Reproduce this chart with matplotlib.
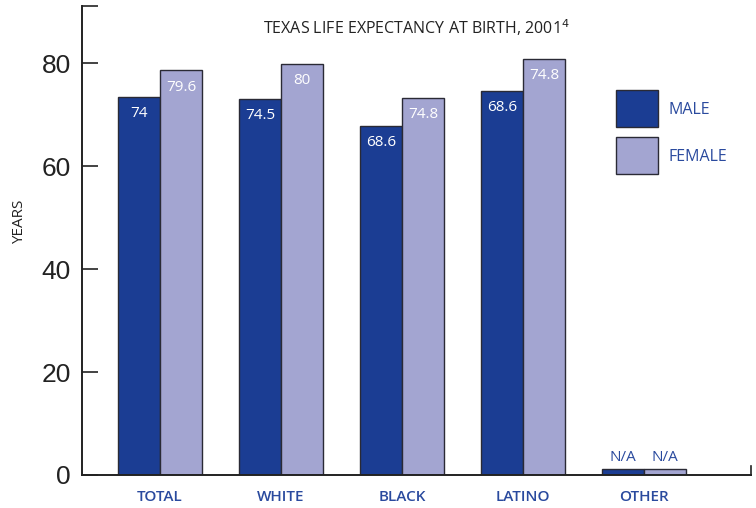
import matplotlib
matplotlib.use("Agg")
import matplotlib.pyplot as plt
from matplotlib.patches import Rectangle
import numpy as np

categories = ["TOTAL", "WHITE", "BLACK", "LATINO", "OTHER"]
male_values = [73.5, 73.0, 67.8, 74.6, 1.2]
female_values = [78.6, 79.9, 73.2, 80.9, 1.2]
male_labels = ["74", "74.5", "68.6", "68.6", "N/A"]
female_labels = ["79.6", "80", "74.8", "74.8", "N/A"]
yticks = [0, 20, 40, 60, 80]

MALE = "#1b3d93"
FEMALE = "#a3a5d1"
TXT_BLUE = "#2a4a9e"
EDGE = "#2a2a35"
W, H = 756, 508
FONT = "Open Sans"

fig = plt.figure(figsize=(7.56, 5.08), dpi=100)
ax = fig.add_axes([82 / W, 1 - 475 / H, (751 - 82) / W, (475 - 6) / H])

x = np.arange(len(categories))
bw = 0.347
bm = ax.bar(x - bw / 2, male_values, bw, color=MALE, edgecolor=EDGE, linewidth=1.0, zorder=2)
bf = ax.bar(x + bw / 2, female_values, bw, color=FEMALE, edgecolor=EDGE, linewidth=1.0, zorder=2)

ax.set_xlim(-0.645, 4.885)
ax.set_ylim(0, 91.1)

for i, (rm, rf) in enumerate(zip(bm, bf)):
    for r, lab in ((rm, male_labels[i]), (rf, female_labels[i])):
        cx = r.get_x() + r.get_width() / 2
        h = r.get_height()
        if lab == "N/A":
            ax.annotate(lab, (cx, h), xytext=(0, 3), textcoords="offset points",
                        ha="center", va="bottom", color=TXT_BLUE, fontsize=11,
                        family=FONT, fontweight=500)
        else:
            ax.annotate(lab, (cx, h), xytext=(0, -12), textcoords="offset points",
                        ha="center", va="center", color="white", fontsize=11,
                        family=FONT, fontweight=500)

# axes styling
for s in ("top", "right"):
    ax.spines[s].set_visible(False)
ax.spines["left"].set_linewidth(1.4)
ax.spines["bottom"].set_linewidth(1.4)
ax.spines["left"].set_color("#222222")
ax.spines["bottom"].set_color("#222222")

ax.set_yticks(yticks)
ax.set_yticklabels([str(t) for t in yticks], fontsize=19, family="Liberation Sans", color="#222222")
ax.set_yticks([91.1], minor=True)
ax.tick_params(axis="y", which="both", direction="in", length=11.5, width=1.2, pad=8, color="#222222")
ax.tick_params(axis="y", which="minor", labelleft=False)

ax.set_xticks(x)
ax.set_xticklabels(categories, fontsize=11, family=FONT, fontweight=600, color=TXT_BLUE)
ax.tick_params(axis="x", length=0, pad=11)

# small end tick on right of x axis
ax.plot([1, 1], [0, 0.02], transform=ax.transAxes, color="#222222", lw=1.2, clip_on=False)

ax.set_ylabel("YEARS", fontsize=11, family=FONT, color="#222222")
ax.yaxis.set_label_coords((27 - 82) / (751 - 82), (475 - 222) / (475 - 6))

fig.text(416 / W, 1 - 28 / H, "TEXAS LIFE EXPECTANCY AT BIRTH, 2001$^{4}$",
         ha="center", va="center", fontsize=11.5, family=FONT, color="#222222")

# legend
for (y0, col, lab) in ((90, MALE, "MALE"), (137, FEMALE, "FEMALE")):
    fig.patches.append(Rectangle((616 / W, 1 - (y0 + 37) / H), 42 / W, 37 / H,
                                 transform=fig.transFigure, facecolor=col,
                                 edgecolor=EDGE, linewidth=1.0))
    fig.text(669 / W, 1 - (y0 + 20) / H, lab, ha="left", va="center",
             fontsize=11.5, family=FONT, fontweight=500, color=TXT_BLUE)

fig.savefig("out.png", dpi=100)
